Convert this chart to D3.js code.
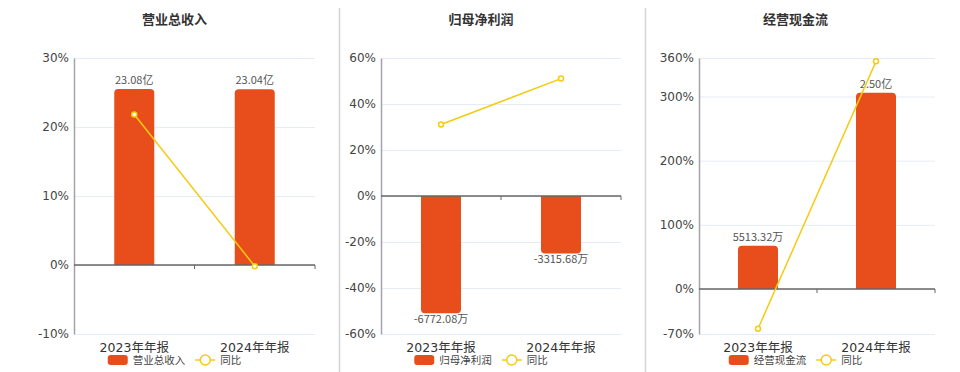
<!DOCTYPE html>
<html><head><meta charset="utf-8">
<script src="https://cdn.jsdelivr.net/npm/d3@7/dist/d3.min.js"></script>
<style>
html,body{margin:0;padding:0;background:#fff;}
svg{display:block;font-family:"DejaVu Sans","Noto Sans CJK SC",sans-serif;}
</style></head>
<body><svg id="c" width="960" height="372"></svg>
<script>
// ---- data ----
const categories = ["2023年年报", "2024年年报"];
const titles = ["营业总收入", "归母净利润", "经营现金流"];
const barValues1 = [23.08e8, 23.04e8];
const barValues2 = [-6772.08e4, -3315.68e4];
const barValues3 = [5513.32e4, 2.50e8];
const barLabels1 = ["23.08亿", "23.04亿"];
const barLabels2 = ["-6772.08万", "-3315.68万"];
const barLabels3 = ["5513.32万", "2.50亿"];
const yoy1 = [21.8, -0.17];
const yoy2 = [31.1, 51.04];
const yoy3 = [-61.8, 354.8];
const ticks1 = [-10, 0, 10, 20, 30];
const ticks2 = [-60, -40, -20, 0, 20, 40, 60];
const ticks3 = [-70, 0, 100, 200, 300, 360];
const legendLine = "同比";

// ---- layout ----
const panels = [
  {left: 74, right: 315, center: 174.5, bars: barValues1, labels: barLabels1, yoy: yoy1, ticks: ticks1, title: titles[0]},
  {left: 381, right: 621, center: 481, bars: barValues2, labels: barLabels2, yoy: yoy2, ticks: ticks2, title: titles[1]},
  {left: 699, right: 935, center: 795.5, bars: barValues3, labels: barLabels3, yoy: yoy3, ticks: ticks3, title: titles[2]}
];
const plotTop = 58, plotBottom = 334;
const barColor = "#E84E1B", lineColor = "#F5CB14";
const svg = d3.select("#c");

// separators
[339.5, 645.5].forEach(x => svg.append("line").attr("x1", x).attr("x2", x).attr("y1", 8).attr("y2", 372)
  .attr("stroke", "#d4d4d4").attr("stroke-width", 1.5));

panels.forEach(p => {
  const g = svg.append("g");
  const y = d3.scaleLinear().domain(d3.extent(p.ticks)).range([plotBottom, plotTop]);
  const x = d3.scaleBand().domain(categories).range([p.left, p.right]);
  const y0 = y(0);
  const maxAbs = d3.max(p.bars, v => Math.abs(v));
  const side = d3.min(p.bars) < 0 ? plotBottom - y0 : y0 - plotTop;
  const yb = d3.scaleLinear().domain([0, maxAbs]).range([0, side * 0.85]);

  // title
  g.append("text").attr("x", p.center).attr("y", 24).attr("text-anchor", "middle")
    .attr("font-size", 13).attr("font-weight", "bold").attr("fill", "#333").text(p.title);

  // grid
  g.selectAll(".grid").data(p.ticks).enter().append("line")
    .attr("x1", p.left).attr("x2", p.right).attr("y1", d => y(d) + 0.5).attr("y2", d => y(d) + 0.5)
    .attr("stroke", "#E6ECF6").attr("stroke-width", 1);

  // y axis
  const ax = g.append("g").attr("transform", `translate(${p.left},0)`)
    .call(d3.axisLeft(y).tickValues(p.ticks).tickSize(0).tickPadding(5).tickFormat(d => d + "%"));
  ax.select(".domain").attr("stroke", "#A3A3AD").attr("stroke-width", 1.5);
  ax.selectAll("text").attr("font-size", 12).attr("fill", "#444").attr("font-family", "DejaVu Sans");

  // bars
  const bw = 40, r = 4;
  p.bars.forEach((v, i) => {
    const cx = x(categories[i]) + x.bandwidth() / 2;
    const h = yb(Math.abs(v));
    const x0 = cx - bw / 2, x1 = cx + bw / 2;
    let d;
    if (v >= 0) {
      const t = y0 - h;
      d = `M${x0},${y0}V${t + r}Q${x0},${t} ${x0 + r},${t}H${x1 - r}Q${x1},${t} ${x1},${t + r}V${y0}Z`;
    } else {
      const b = y0 + h;
      d = `M${x0},${y0}V${b - r}Q${x0},${b} ${x0 + r},${b}H${x1 - r}Q${x1},${b} ${x1},${b - r}V${y0}Z`;
    }
    g.append("path").attr("d", d).attr("fill", barColor);
    g.append("text").attr("x", cx).attr("y", v >= 0 ? y0 - h - 5 : y0 + h + 10)
      .attr("text-anchor", "middle").attr("font-size", 11).attr("fill", "#555")
      .attr("font-family", "Noto Sans CJK SC").text(p.labels[i]);
  });

  // zero line with ticks
  g.append("line").attr("x1", p.left).attr("x2", p.right).attr("y1", y0).attr("y2", y0)
    .attr("stroke", "#666").attr("stroke-width", 1.5);
  [x(categories[1]), p.right].forEach(tx => g.append("line").attr("x1", tx).attr("x2", tx)
    .attr("y1", y0).attr("y2", y0 + 4).attr("stroke", "#666").attr("stroke-width", 1));

  // x labels
  categories.forEach(c => g.append("text").attr("x", x(c) + x.bandwidth() / 2).attr("y", 351.5)
    .attr("text-anchor", "middle").attr("font-size", 12.5).attr("fill", "#333").text(c));

  // line
  const pts = p.yoy.map((v, i) => [x(categories[i]) + x.bandwidth() / 2, y(v)]);
  g.append("path").attr("d", d3.line()(pts)).attr("fill", "none").attr("stroke", lineColor).attr("stroke-width", 1.5);
  pts.forEach(pt => g.append("circle").attr("cx", pt[0]).attr("cy", pt[1]).attr("r", 2.5)
    .attr("fill", "#fff").attr("stroke", lineColor).attr("stroke-width", 1.5));

  // legend
  const lg = g.append("g");
  const t1 = lg.append("text").attr("font-size", 10.5).attr("fill", "#444").attr("y", 364).text(p.title);
  const t2 = lg.append("text").attr("font-size", 10.5).attr("fill", "#444").attr("y", 364).text(legendLine);
  const w1 = t1.node().getComputedTextLength(), w2 = t2.node().getComputedTextLength();
  const total = 20 + 5 + w1 + 10 + 20 + 5 + w2;
  let lx = p.center - total / 2;
  lg.append("rect").attr("x", lx).attr("y", 355).attr("width", 20).attr("height", 10).attr("rx", 3).attr("fill", barColor);
  t1.attr("x", lx + 25);
  const lx2 = lx + 25 + w1 + 10;
  lg.append("line").attr("x1", lx2).attr("x2", lx2 + 20).attr("y1", 360).attr("y2", 360).attr("stroke", lineColor).attr("stroke-width", 1.5);
  lg.append("circle").attr("cx", lx2 + 10).attr("cy", 360).attr("r", 5).attr("fill", "#fff").attr("stroke", lineColor).attr("stroke-width", 1.5);
  t2.attr("x", lx2 + 25);
});
</script></body></html>
